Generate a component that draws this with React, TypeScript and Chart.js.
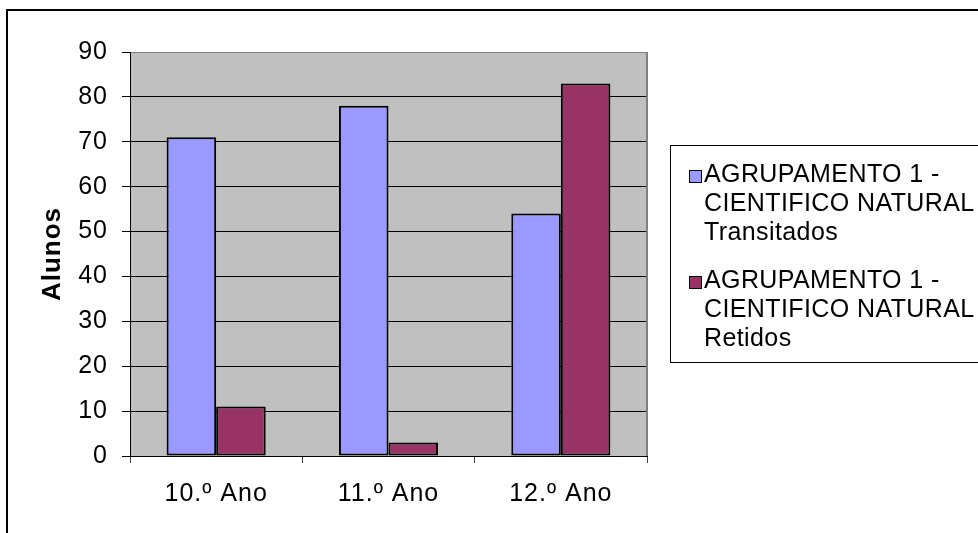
import React, { useEffect, useRef } from "react";
import { Chart, registerables } from "chart.js";

Chart.register(...registerables);

const categories = ["10.º Ano", "11.º Ano", "12.º Ano"];
const transitados = [71, 78, 54];
const retidos = [11, 3, 83];
const seriesLabels = [
  ["AGRUPAMENTO 1 -", "CIENTIFICO NATURAL", "Transitados"],
  ["AGRUPAMENTO 1 -", "CIENTIFICO NATURAL", "Retidos"],
];
const seriesColors = ["#9999FF", "#993366"];
const yTitle = "Alunos";
const yMin = 0;
const yMax = 90;
const yStep = 10;

const FONT = "'Liberation Sans', Arial, sans-serif";

const setSpacing = (chart: any, v: string) => {
  try {
    chart.ctx.letterSpacing = v;
  } catch (e) {}
};

const framePlugin = {
  id: "frame",
  beforeLayout(chart: any) {
    setSpacing(chart, "1px");
  },
  beforeDraw(chart: any) {
    setSpacing(chart, "1px");
    const { ctx, chartArea: a } = chart;
    ctx.save();
    ctx.fillStyle = "#ffffff";
    ctx.fillRect(0, 0, chart.width, chart.height);
    ctx.fillStyle = "#000000";
    ctx.fillRect(6, 9, 2, chart.height);
    ctx.fillRect(6, 9, chart.width, 2);
    ctx.fillStyle = "#C0C0C0";
    ctx.fillRect(a.left, a.top, a.right - a.left, a.bottom - a.top);
    ctx.restore();
  },
  afterDatasetsDraw(chart: any) {
    const { ctx, chartArea: a } = chart;
    ctx.save();
    ctx.fillStyle = "#808080";
    ctx.fillRect(a.right - 1, a.top, 2, a.bottom - a.top);
    ctx.restore();
  },
  afterDraw(chart: any) {
    const { ctx } = chart;
    ctx.save();
    try {
      ctx.letterSpacing = "0.4px";
    } catch (e) {}
    ctx.strokeStyle = "#000";
    ctx.lineWidth = 1;
    ctx.strokeRect(670.5, 145.5, 400, 217);
    ctx.font = `25px ${FONT}`;
    ctx.textBaseline = "alphabetic";
    ctx.textAlign = "left";
    const blockTops = [182, 288];
    seriesLabels.forEach((lines, i) => {
      const base = blockTops[i];
      ctx.fillStyle = seriesColors[i];
      ctx.fillRect(689, base - 12, 13, 13);
      ctx.strokeRect(689.5, base - 11.5, 12, 12);
      ctx.fillStyle = "#000";
      lines.forEach((t, j) => ctx.fillText(t, 704, base + j * 29));
    });
    ctx.restore();
  },
};

export default function App() {
  const ref = useRef<HTMLCanvasElement | null>(null);
  useEffect(() => {
    if (!ref.current) return;
    const chart = new Chart(ref.current, {
      type: "bar",
      data: {
        labels: categories,
        datasets: [
          {
            label: seriesLabels[0].join(" "),
            data: transitados,
            backgroundColor: seriesColors[0],
            borderColor: "#000",
            borderWidth: 2,
            borderSkipped: false,
          },
          {
            label: seriesLabels[1].join(" "),
            data: retidos,
            backgroundColor: seriesColors[1],
            borderColor: "#000",
            borderWidth: 2,
            borderSkipped: false,
          },
        ],
      },
      options: {
        animation: false,
        responsive: false,
        devicePixelRatio: 1,
        layout: { padding: { left: 0, top: 52, right: 331, bottom: 0 } },
        datasets: { bar: { categoryPercentage: 0.575, barPercentage: 1 } },
        plugins: { legend: { display: false }, tooltip: { enabled: false } },
        scales: {
          x: {
            grid: { offset: true, drawOnChartArea: false, tickLength: 7, color: "#404040", lineWidth: 1 },
            border: { color: "#000", width: 1 },
            ticks: { color: "#000", font: { family: FONT, size: 25 }, padding: 16, maxRotation: 0 },
            afterFit: (s: any) => {
              s.height = 77;
            },
          },
          y: {
            min: yMin,
            max: yMax,
            ticks: { stepSize: yStep, color: "#000", font: { family: FONT, size: 25 }, padding: 14 },
            grid: {
              color: (c: any) => (c.tick && c.tick.value === yMax ? "#808080" : "#000"),
              tickColor: "#000",
              tickLength: 8,
              lineWidth: 1,
            },
            border: { color: "#000", width: 1 },
            title: {
              display: true,
              text: yTitle,
              color: "#000",
              font: { family: FONT, size: 26, weight: "bold" },
              padding: { top: 37, bottom: 0 },
            },
            afterFit: (s: any) => {
              s.width = 130;
            },
          },
        },
      } as any,
      plugins: [framePlugin],
    });
    return () => chart.destroy();
  }, []);
  return (
    <div style={{ position: "fixed", left: 0, top: 0, width: 978, height: 533, background: "#fff" }}>
      <canvas ref={ref} width={978} height={533} style={{ width: 978, height: 533, display: "block" }} />
    </div>
  );
}
